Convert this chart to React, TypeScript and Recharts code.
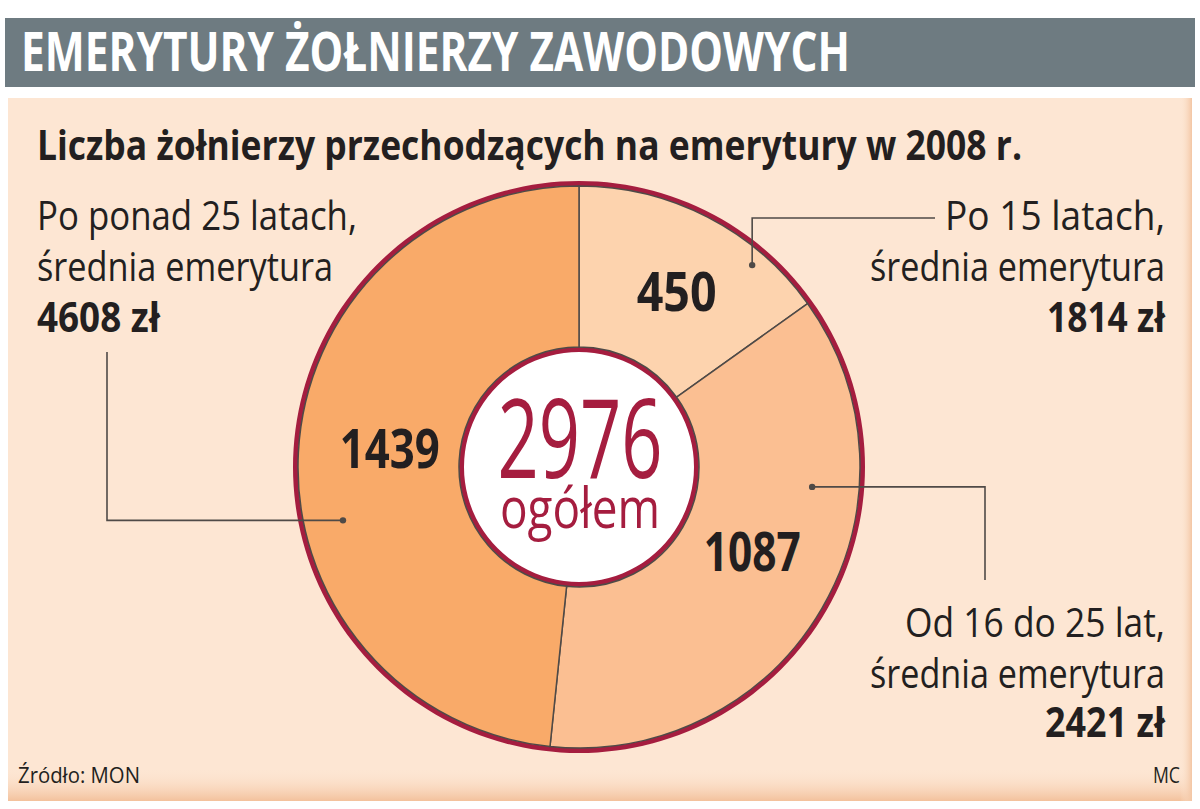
import { PieChart, Pie, Cell } from 'recharts';

// dane: liczba żołnierzy przechodzących na emerytury w 2008 r.
const groups = ['Po 15 latach', 'Od 16 do 25 lat', 'Po ponad 25 latach'];
const counts = [450, 1087, 1439];
const avgPension = ['1814 zł', '2421 zł', '4608 zł'];
const total = 2976;

const sliceColors = ['#fdd3ae', '#fbbf92', '#f9aa69'];
const RED = '#a51d3f';
const INK = '#231f20';
const LINE = '#4f4a47';
const FONT = '"Open Sans", "Noto Sans", sans-serif';

const CX = 579;
const CY = 467;
const RAD = Math.PI / 180;

// położenie liczb i kropek odnośników względem kąta środka wycinka
const numShift = [-2, 4, -2.5];
const numRadius = [200, 193, 190];
const numWidth = [80, 97, 100];
const dotShift = [-13.4, 25.3, 15.7];
const dotRadius = [266, 234, 242];

const pieData = groups.map((g, i) => ({ name: g, value: counts[i] }));

const polar = (cx: number, cy: number, r: number, a: number) => ({
  x: cx + r * Math.cos(-a * RAD),
  y: cy + r * Math.sin(-a * RAD),
});

function SliceLabel(props: any) {
  const { cx, cy, midAngle, index, value } = props;
  const p = polar(cx, cy, numRadius[index], midAngle + numShift[index]);
  const d = polar(cx, cy, dotRadius[index], midAngle + dotShift[index]);
  let path = '';
  if (index === 0) path = `M${d.x},${d.y} V218 H935`;
  if (index === 1) path = `M${d.x},${d.y} H985 V580`;
  if (index === 2) path = `M${d.x},${d.y} H107 V352`;
  return (
    <g>
      <path d={path} fill="none" stroke={LINE} strokeWidth={1.6} />
      <circle cx={d.x} cy={d.y} r={3.2} fill={LINE} />
      <text
        x={p.x}
        y={p.y + 19}
        textAnchor="middle"
        fontFamily={FONT}
        fontWeight={700}
        fontSize={53}
        fill={INK}
        textLength={numWidth[index]}
        lengthAdjust="spacingAndGlyphs"
      >
        {value}
      </text>
    </g>
  );
}

function T({ x, y, w, size, bold, anchor, fill, children }: any) {
  return (
    <text
      x={x}
      y={y}
      fontFamily={FONT}
      fontSize={size}
      fontWeight={bold ? 700 : 500}
      textAnchor={anchor || 'start'}
      fill={fill || INK}
      textLength={w}
      lengthAdjust="spacingAndGlyphs"
    >
      {children}
    </text>
  );
}

export default function App() {
  return (
    <div style={{ position: 'absolute', left: 0, top: 0, width: 1200, height: 809, background: '#fff', overflow: 'hidden' }}>
      <svg width={1200} height={809} style={{ position: 'absolute', left: 0, top: 0 }}>
        <defs>
          <linearGradient id="bottomShade" x1="0" y1="0" x2="0" y2="1">
            <stop offset="0" stopColor="#fde6d3" stopOpacity={0} />
            <stop offset="1" stopColor="#f3c19c" />
          </linearGradient>
          <linearGradient id="rightShade" x1="0" y1="0" x2="1" y2="0">
            <stop offset="0" stopColor="#fde6d3" stopOpacity={0} />
            <stop offset="1" stopColor="#f3c6a4" />
          </linearGradient>
        </defs>
        <rect x={5} y={18} width={1190} height={69} fill="#6e7b81" />
        <rect x={8} y={98} width={1184} height={703} fill="#fde6d3" />
        <rect x={8} y={768} width={1184} height={33} fill="url(#bottomShade)" />
        <rect x={1180} y={98} width={12} height={703} fill="url(#rightShade)" />
      </svg>

      <div style={{ position: 'absolute', left: 0, top: 0 }}>
        <PieChart width={1200} height={809} margin={{ top: 0, right: 0, bottom: 0, left: 0 }}>
          {/* obwódka zewnętrzna, biały środek i jego obwódka */}
          <Pie data={[{ value: total }]} dataKey="value" cx={CX} cy={CY} innerRadius={281} outerRadius={286} fill={RED} stroke="none" isAnimationActive={false} />
          <Pie data={[{ value: total }]} dataKey="value" cx={CX} cy={CY} innerRadius={0} outerRadius={116} fill="#ffffff" stroke="none" isAnimationActive={false} />
          <Pie data={[{ value: total }]} dataKey="value" cx={CX} cy={CY} innerRadius={115} outerRadius={120} fill={RED} stroke="none" isAnimationActive={false} />
          <Pie
            data={pieData}
            dataKey="value"
            nameKey="name"
            cx={CX}
            cy={CY}
            innerRadius={120}
            outerRadius={281}
            startAngle={90}
            endAngle={-270}
            stroke={LINE}
            strokeWidth={1.5}
            label={SliceLabel}
            labelLine={false}
            isAnimationActive={false}
          >
            {pieData.map((d, i) => (
              <Cell key={d.name} fill={sliceColors[i]} />
            ))}
          </Pie>
        </PieChart>
      </div>

      <svg width={1200} height={809} style={{ position: 'absolute', left: 0, top: 0, pointerEvents: 'none' }}>
        <T x={21} y={71} w={829} size={54} bold fill="#ffffff">EMERYTURY ŻOŁNIERZY ZAWODOWYCH</T>
        <T x={37} y={160} w={985} size={41} bold>Liczba żołnierzy przechodzących na emerytury w 2008 r.</T>

        <T x={37} y={230} w={320} size={41}>{groups[2]},</T>
        <T x={37} y={281} w={296} size={41}>średnia emerytura</T>
        <T x={37} y={332} w={123} size={41} bold>{avgPension[2]}</T>

        <T x={1165} y={230} w={220} size={41} anchor="end">{groups[0]},</T>
        <T x={1165} y={281} w={295} size={41} anchor="end">średnia emerytura</T>
        <T x={1165} y={332} w={118} size={41} bold anchor="end">{avgPension[0]}</T>

        <T x={1165} y={637} w={260} size={41} anchor="end">{groups[1]},</T>
        <T x={1165} y={688} w={295} size={41} anchor="end">średnia emerytura</T>
        <T x={1165} y={737} w={120} size={41} bold anchor="end">{avgPension[1]}</T>

        <T x={580} y={478} w={165} size={110} anchor="middle" fill={RED}>{total}</T>
        <T x={580} y={528} w={160} size={57} anchor="middle" fill={RED}>ogółem</T>

        <T x={18} y={783} w={122} size={22}>Źródło: MON</T>
        <T x={1180} y={783} w={27} size={22} anchor="end">MC</T>
      </svg>
    </div>
  );
}
